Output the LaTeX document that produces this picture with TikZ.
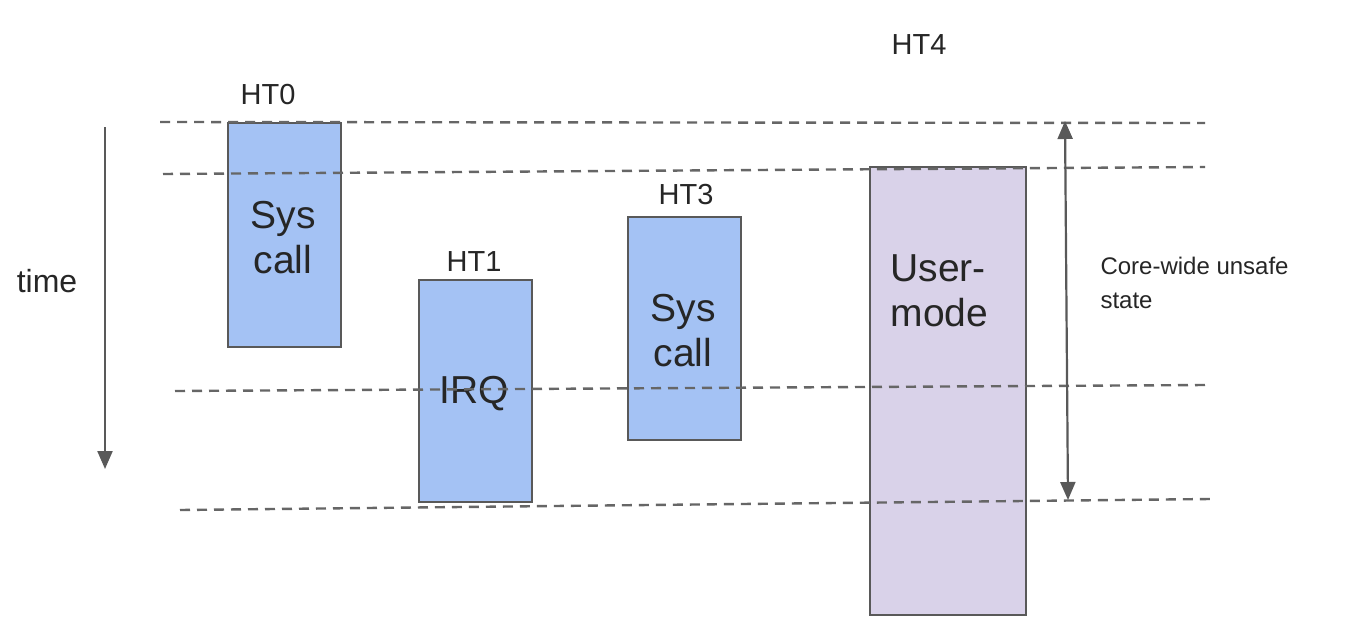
\documentclass[tikz,border=0pt]{standalone}
\usepackage{fontspec}
\setmainfont{Liberation Sans}
\usetikzlibrary{arrows.meta}
\definecolor{boxblue}{HTML}{A4C2F4}
\definecolor{boxpurple}{HTML}{D9D2E9}
\definecolor{edge}{HTML}{595959}
\definecolor{dashc}{HTML}{666666}
\tikzset{
  x=1pt,y=-1pt,
  slot/.style={draw=edge,line width=2.4pt,inner sep=0pt,minimum width=#1},
  bigtxt/.style={font=\fontsize{39}{45}\selectfont,text=black!85,align=center},
  lbl/.style={font=\fontsize{29}{34}\selectfont,text=black!85},
  sidetxt/.style={font=\fontsize{24}{34}\selectfont,text=black!85},
  dashline/.style={draw=dashc,line width=2.4pt,dash pattern=on 10pt off 7pt},
  tip/.tip={Triangle[length=18pt,width=15pt]},
  arr/.style={draw=edge,line width=2.2pt,-tip},
}
\begin{document}
\begin{tikzpicture}
\useasboundingbox (0,0) rectangle (1370,640);
\fill[white] (0,0) rectangle (1370,640);
% boxes
\draw[slot=0,fill=boxblue] (228,123) rectangle (341,347);
\draw[slot=0,fill=boxblue] (419,280) rectangle (532,502);
\draw[slot=0,fill=boxblue] (628,217) rectangle (741,440);
\draw[slot=0,fill=boxpurple] (870,167) rectangle (1026,615);
\node[bigtxt] (t0) at (283,238) {Sys\\call};
\node[bigtxt] (t1) at (474,394) {IRQ};
\node[bigtxt] (t3) at (683,331) {Sys\\call};
\node[bigtxt,align=left,anchor=west] (t4) at (887,291) {User-\\mode};
% labels
\node[lbl] (h0) at (268,95) {HT0};
\node[lbl] (h1) at (474,262) {HT1};
\node[lbl] (h3) at (686,195) {HT3};
\node[lbl] (h4) at (919,45) {HT4};
\node[font=\fontsize{32}{34}\selectfont,text=black!85] (time) at (47,281) {time};
\node[sidetxt,align=left,anchor=west] (cw) at (1097,283) {Core-wide unsafe\\state};
% dashed lines
\coordinate (d1a) at (160,122); \coordinate (d1b) at (1205,123);
\coordinate (d2a) at (163,174); \coordinate (d2b) at (1205,167);
\coordinate (d3a) at (175,391); \coordinate (d3b) at (1205,385);
\coordinate (d4a) at (180,510); \coordinate (d4b) at (1210,499);
\draw[dashline] (d1a) -- (d1b);
\draw[dashline] (d2a) -- (d2b);
\draw[dashline] (d3a) -- (d3b);
\draw[dashline] (d4a) -- (d4b);
% arrows
\coordinate (ta) at (105,127); \coordinate (tb) at (105,469);
\draw[arr] (ta) -- (tb);
\coordinate (ua) at (1065,121); \coordinate (ub) at (1068,500);
\draw[arr,tip-tip] (ua) -- (ub);
\end{tikzpicture}
\end{document}
